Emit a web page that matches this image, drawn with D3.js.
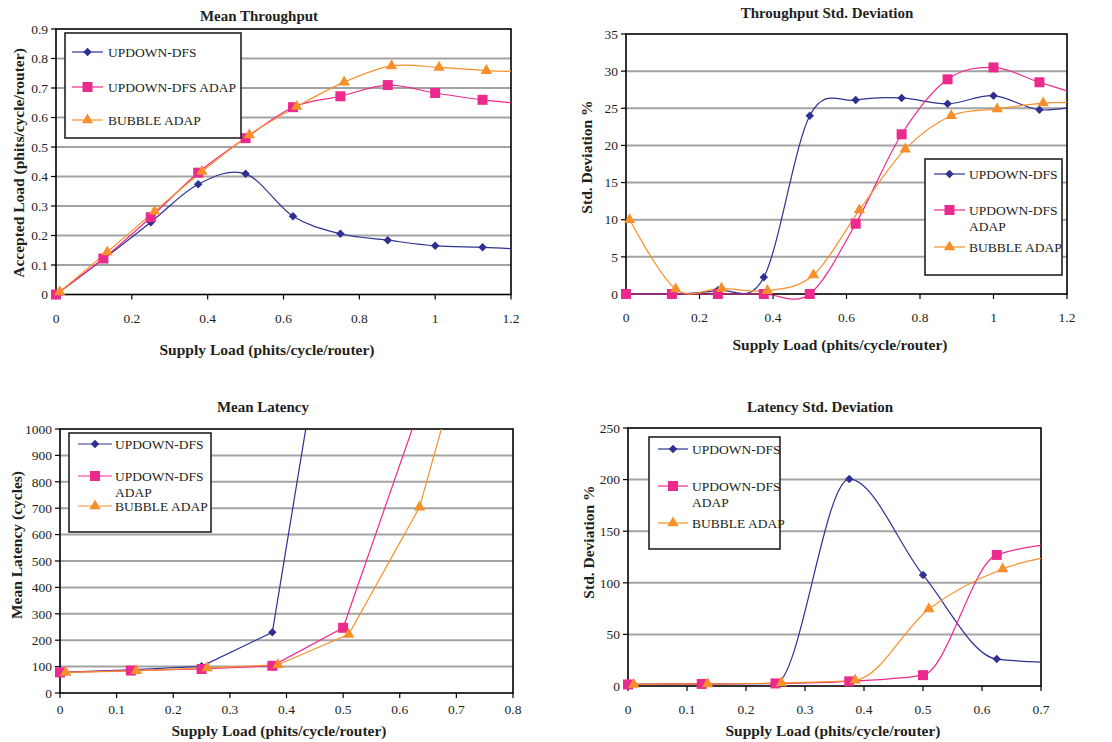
<!DOCTYPE html>
<html lang="en">
<head>
<meta charset="utf-8" />
<script src="https://cdnjs.cloudflare.com/ajax/libs/d3/7.8.5/d3.min.js"></script>
<style>
  body { margin: 0; background: #fff; }
  svg text { font-family: "Liberation Serif", "Times New Roman", serif; fill: #231f20; }
</style>
<title>Throughput and latency</title>
</head>
<body>
<svg id="chart" width="1112" height="742"></svg>
<script>

// ---- data ----
const seriesNames = ['UPDOWN-DFS', 'UPDOWN-DFS ADAP', 'BUBBLE ADAP'];
const legendWrapped = [['UPDOWN-DFS'], ['UPDOWN-DFS', 'ADAP'], ['BUBBLE ADAP']];
const seriesColors = ['#2e3192', '#ec2a8e', '#f7902a'];

// supply load of each sample (bubble samples sit slightly to the right)
const loadX = [0, 0.125, 0.25, 0.375, 0.5, 0.625, 0.75, 0.875, 1.0, 1.125, 1.25];
const loadXBubble = [0.01, 0.135, 0.26, 0.385, 0.51, 0.635, 0.76, 0.885, 1.01, 1.135, 1.26];

// Mean Throughput
const tpMeanDfs = [0, 0.12, 0.245, 0.374, 0.409, 0.265, 0.206, 0.184, 0.165, 0.16, 0.152];
const tpMeanDfsAdap = [0, 0.122, 0.262, 0.413, 0.53, 0.635, 0.672, 0.71, 0.683, 0.66, 0.645];
const tpMeanBubble = [0.009, 0.144, 0.282, 0.417, 0.541, 0.637, 0.72, 0.775, 0.77, 0.759, 0.755];

// Throughput Std. Deviation
const tpStdDfs = [0, 0, 0.5, 2.24, 24.0, 26.1, 26.4, 25.6, 26.7, 24.8, 25.5];
const tpStdDfsAdap = [0, 0, 0, 0, 0, 9.46, 21.5, 28.9, 30.5, 28.5, 26.6];
const tpStdBubble = [10.0, 0.67, 0.76, 0.45, 2.55, 11.3, 19.5, 24.0, 24.9, 25.7, 25.8];

// Mean Latency
const latMeanDfs = [78, 88, 101, 230, 1861];
const latMeanDfsAdap = [78, 85, 91, 103, 247, 1018];
const latMeanBubble = [78, 84, 95, 107, 222, 704, 1665];

// Latency Std. Deviation
const latStdDfs = [1.5, 2, 2.3, 200.5, 107.6, 26.1, 22];
const latStdDfsAdap = [1.5, 2, 2.5, 4.5, 10.5, 127, 139];
const latStdBubble = [1.5, 2, 3, 5.5, 74.7, 113.4, 129];

// tick labels
const tpXTicks = [0, 0.2, 0.4, 0.6, 0.8, 1, 1.2];
const latXTicks = [0, 0.1, 0.2, 0.3, 0.4, 0.5, 0.6, 0.7, 0.8];
const lsXTicks = [0, 0.1, 0.2, 0.3, 0.4, 0.5, 0.6, 0.7];
const tpMeanYTicks = [0, 0.1, 0.2, 0.3, 0.4, 0.5, 0.6, 0.7, 0.8, 0.9];
const tpStdYTicks = [0, 5, 10, 15, 20, 25, 30, 35];
const latMeanYTicks = [0, 100, 200, 300, 400, 500, 600, 700, 800, 900, 1000];
const latStdYTicks = [0, 50, 100, 150, 200, 250];

const xTitle = 'Supply Load (phits/cycle/router)';

const svg = d3.select('#chart');
const smooth = d3.curveCardinal.tension(0);

const panels = [
  {
    title: 'Mean Throughput', yTitle: 'Accepted Load (phits/cycle/router)',
    box: { l: 56, r: 511, t: 29, b: 294.5 },
    xTicks: tpXTicks, yTicks: tpMeanYTicks, xLabelGap: 23.5,
    titleAt: [259, 16], xTitleAt: [267, 350], yTitleAt: [19, 163],
    curve: smooth,
    series: [[loadX, tpMeanDfs], [loadX, tpMeanDfsAdap], [loadXBubble, tpMeanBubble]],
    legend: { l: 65, t: 33, r: 241, b: 138, rows: [52, 87, 120], x0: 72, x1: 103, tx: 108, wrap: false }
  },
  {
    title: 'Throughput Std. Deviation', yTitle: 'Std. Deviation %',
    box: { l: 626, r: 1067, t: 34, b: 294 },
    xTicks: tpXTicks, yTicks: tpStdYTicks, xLabelGap: 23,
    titleAt: [827, 13], xTitleAt: [840, 345], yTitleAt: [587, 157],
    curve: smooth,
    series: [[loadX, tpStdDfs], [loadX, tpStdDfsAdap], [loadXBubble, tpStdBubble]],
    legend: { l: 925, t: 159, r: 1062, b: 275, rows: [174, 210, 247], x0: 934, x1: 965, tx: 969, wrap: true }
  },
  {
    title: 'Mean Latency', yTitle: 'Mean Latency (cycles)',
    box: { l: 60, r: 513, t: 429, b: 693 },
    xTicks: latXTicks, yTicks: latMeanYTicks, xLabelGap: 16,
    titleAt: [263, 407], xTitleAt: [279, 731], yTitleAt: [17, 545],
    curve: d3.curveLinear,
    series: [[loadX.slice(0, 5), latMeanDfs], [loadX.slice(0, 6), latMeanDfsAdap], [loadXBubble.slice(0, 7), latMeanBubble]],
    legend: { l: 69, t: 433, r: 211, b: 532, rows: [444, 476, 506], x0: 78, x1: 112, tx: 115, wrap: true }
  },
  {
    title: 'Latency Std. Deviation', yTitle: 'Std. Deviation %',
    box: { l: 628, r: 1041, t: 428, b: 686 },
    xTicks: lsXTicks, yTicks: latStdYTicks, xLabelGap: 23,
    titleAt: [820, 407], xTitleAt: [833, 731], yTitleAt: [589, 542],
    curve: d3.curveMonotoneX,
    series: [[loadX.slice(0, 7), latStdDfs], [loadX.slice(0, 7), latStdDfsAdap], [loadXBubble.slice(0, 7), latStdBubble]],
    legend: { l: 649, t: 437, r: 780, b: 549, rows: [449, 486, 523], x0: 658, x1: 688, tx: 692, wrap: true }
  }
];

// marker shapes for the three series
function marker(g, i, color) {
  if (i === 0) {
    g.append('path').attr('d', d3.symbol(d3.symbolSquare, 36)()).attr('transform', 'rotate(45)');
  } else if (i === 1) {
    g.append('path').attr('d', d3.symbol(d3.symbolSquare, 100)());
  } else {
    g.append('path').attr('d', d3.symbol(d3.symbolTriangle, 56)());
  }
  g.selectAll('path').attr('fill', color).attr('stroke', 'none');
}

panels.forEach((p, pi) => {
  const b = p.box;
  const x = d3.scaleLinear().domain(d3.extent(p.xTicks)).range([b.l, b.r]);
  const y = d3.scaleLinear().domain(d3.extent(p.yTicks)).range([b.b, b.t]);
  const g = svg.append('g');

  // grid
  g.selectAll('.grid').data(p.yTicks.slice(1, -1)).enter().append('line')
    .attr('x1', b.l).attr('x2', b.r)
    .attr('y1', (d) => y(d)).attr('y2', (d) => y(d))
    .attr('stroke', '#a3a3a3').attr('stroke-width', 2);

  // ticks
  g.selectAll('.yt').data(p.yTicks).enter().append('line')
    .attr('x1', b.l - 5).attr('x2', b.l)
    .attr('y1', (d) => y(d)).attr('y2', (d) => y(d))
    .attr('stroke', '#000').attr('stroke-width', 1.2);
  g.selectAll('.xt').data(p.xTicks).enter().append('line')
    .attr('x1', (d) => x(d)).attr('x2', (d) => x(d))
    .attr('y1', b.b).attr('y2', b.b + 5)
    .attr('stroke', '#000').attr('stroke-width', 1.2);

  g.selectAll('.yl').data(p.yTicks).enter().append('text')
    .attr('x', b.l - 8).attr('y', (d) => y(d)).attr('dy', '0.35em')
    .attr('text-anchor', 'end').style('font-size', '13.5px')
    .text((d) => d);
  g.selectAll('.xl').data(p.xTicks).enter().append('text')
    .attr('x', (d) => x(d)).attr('y', b.b + p.xLabelGap).attr('dy', '0.35em')
    .attr('text-anchor', 'middle').style('font-size', '13.5px')
    .text((d) => d);

  // frame
  g.append('rect')
    .attr('x', b.l).attr('y', b.t).attr('width', b.r - b.l).attr('height', b.b - b.t)
    .attr('fill', 'none').attr('stroke', '#000').attr('stroke-width', 1.6);

  // titles
  g.append('text').attr('x', p.titleAt[0]).attr('y', p.titleAt[1]).attr('dy', '0.35em')
    .attr('text-anchor', 'middle').style('font-size', '15px').style('font-weight', 'bold')
    .text(p.title);
  g.append('text').attr('x', p.xTitleAt[0]).attr('y', p.xTitleAt[1]).attr('dy', '0.35em')
    .attr('text-anchor', 'middle').style('font-size', '15.5px').style('font-weight', 'bold')
    .text(xTitle);
  g.append('text')
    .attr('transform', `translate(${p.yTitleAt[0]},${p.yTitleAt[1]}) rotate(-90)`)
    .attr('dy', '0.35em').attr('text-anchor', 'middle')
    .style('font-size', '15.5px').style('font-weight', 'bold')
    .text(p.yTitle);

  // clip lines at the plot edges
  const clipId = 'clip' + pi;
  svg.append('clipPath').attr('id', clipId).append('rect')
    .attr('x', b.l).attr('y', b.t).attr('width', b.r - b.l).attr('height', b.b - b.t + 10);

  const line = d3.line().x((d) => x(d[0])).y((d) => y(d[1])).curve(p.curve);

  p.series.forEach(([xs, ys], si) => {
    const pts = xs.map((v, k) => [v, ys[k]]);
    g.append('path').datum(pts)
      .attr('d', line)
      .attr('clip-path', `url(#${clipId})`)
      .attr('fill', 'none')
      .attr('stroke', seriesColors[si])
      .attr('stroke-width', 1.2);
  });

  p.series.forEach(([xs, ys], si) => {
    const pts = xs.map((v, k) => [v, ys[k]])
      .filter((d) => d[0] <= x.domain()[1] && d[1] <= y.domain()[1]);
    pts.forEach((d) => {
      const mg = g.append('g').attr('transform', `translate(${x(d[0])},${y(d[1])})`);
      marker(mg, si, seriesColors[si]);
    });
  });

  // legend
  const L = p.legend;
  g.append('rect')
    .attr('x', L.l).attr('y', L.t).attr('width', L.r - L.l).attr('height', L.b - L.t)
    .attr('fill', '#fff').attr('stroke', '#222').attr('stroke-width', 1.6);
  seriesNames.forEach((name, si) => {
    const ry = L.rows[si];
    g.append('line').attr('x1', L.x0).attr('x2', L.x1).attr('y1', ry).attr('y2', ry)
      .attr('stroke', seriesColors[si]).attr('stroke-width', 1.2);
    const mg = g.append('g').attr('transform', `translate(${(L.x0 + L.x1) / 2},${ry})`);
    marker(mg, si, seriesColors[si]);
    const lines = L.wrap ? legendWrapped[si] : [name];
    const t = g.append('text').attr('x', L.tx).attr('y', ry)
      .style('font-size', '13.5px');
    lines.forEach((s, li) => {
      t.append('tspan').attr('x', L.tx).attr('dy', li === 0 ? '0.35em' : '16px').text(s);
    });
  });
});

</script>
</body>
</html>
